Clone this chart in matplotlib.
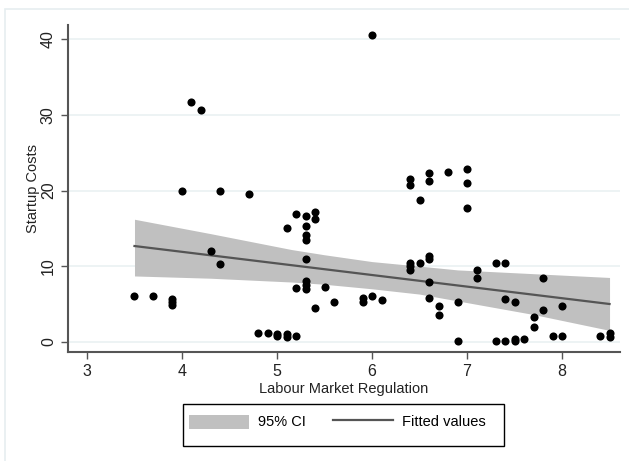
import numpy as np
import matplotlib
matplotlib.use("Agg")
import matplotlib.pyplot as plt
from matplotlib.patches import Rectangle, Patch
from matplotlib.lines import Line2D

# ---- data ----
lmr = [3.5, 3.7, 3.9, 3.9, 3.9, 4.0, 4.1, 4.2, 4.3, 4.4, 4.4, 4.7, 4.8, 4.9,
       5.0, 5.0, 5.1, 5.1, 5.1, 5.2, 5.2, 5.2, 5.3, 5.3, 5.3, 5.3, 5.3, 5.3,
       5.3, 5.3, 5.4, 5.4, 5.4, 5.5, 5.6, 5.9, 5.9, 6.0, 6.0, 6.1, 6.4, 6.4,
       6.4, 6.4, 6.4, 6.5, 6.5, 6.6, 6.6, 6.6, 6.6, 6.6, 6.6, 6.7, 6.7, 6.8,
       6.9, 6.9, 7.0, 7.0, 7.0, 7.1, 7.1, 7.3, 7.3, 7.4, 7.4, 7.4, 7.5, 7.5,
       7.5, 7.6, 7.7, 7.7, 7.8, 7.8, 7.9, 8.0, 8.0, 8.4, 8.5, 8.5]
startup = [6.0, 6.0, 5.7, 5.2, 4.8, 20.0, 31.7, 30.6, 12.0, 19.9, 10.3, 19.5, 1.1, 1.1,
           1.0, 0.7, 1.0, 0.6, 15.0, 16.9, 7.1, 0.7, 16.6, 15.3, 14.1, 13.4, 10.9, 8.0,
           7.5, 7.0, 17.1, 16.3, 4.5, 7.3, 5.3, 5.8, 5.2, 40.6, 6.0, 5.5, 21.5, 20.7,
           10.4, 10.0, 9.5, 18.8, 10.4, 22.3, 21.3, 11.4, 11.0, 7.9, 5.8, 4.7, 3.6, 22.5,
           5.2, 0.1, 22.9, 21.0, 17.7, 9.5, 8.4, 10.4, 0.1, 10.4, 5.6, 0.1, 5.2, 0.1,
           0.4, 0.3, 3.3, 1.9, 8.4, 4.2, 0.7, 4.7, 0.7, 0.7, 0.6, 1.1]

# fitted line and 95% CI band
fit_x = [3.5, 8.5]
fit_y = [12.66, 4.99]
ci_x = [3.5, 4.3, 5.15, 5.5, 6.0, 6.5, 6.9, 7.7, 8.5]
ci_hi = [16.2, 14.3, 12.2, 11.5, 10.6, 10.0, 9.5, 9.0, 8.5]
ci_lo = [8.7, 8.4, 7.9, 7.6, 7.0, 6.3, 5.4, 3.6, 1.5]

x_ticks = [3, 4, 5, 6, 7, 8]
y_ticks = [0, 10, 20, 30, 40]
legend_labels = ["95% CI", "Fitted values"]

plt.rcParams['font.family'] = ['Liberation Sans', 'DejaVu Sans']

W, H = 629, 461
fig = plt.figure(figsize=(W / 100, H / 100), dpi=100)
fig.patch.set_facecolor('white')
# outer graph-region border
fig.patches.append(Rectangle((5 / W, -0.05), 2, 1 - 9 / H + 0.05,
                             transform=fig.transFigure, fill=False,
                             edgecolor='#e6eef0', linewidth=1.2))

ax = fig.add_axes([67.7 / W, 1 - 352.3 / H, (620 - 67.7) / W, (352.3 - 25) / H])
ax.set_xlim(2.797, 8.61)
ax.set_ylim(-1.4, 41.9)

ax.fill_between(ci_x, ci_lo, ci_hi, color='#c0c0c0', linewidth=0, zorder=1)
ax.plot(fit_x, fit_y, color='#555555', linewidth=1.6, zorder=2)
ax.scatter(lmr, startup, s=34, color='black', zorder=3, linewidths=0)

ax.set_xticks(x_ticks)
ax.set_yticks(y_ticks)
ax.set_yticklabels([str(v) for v in y_ticks], rotation=90, va='center')
ax.tick_params(axis='both', direction='out', length=5, width=1, color='#555555',
               labelsize=11.5, labelcolor='#222222')
ax.grid(axis='y', color='#eaf1f2', linewidth=1.2, zorder=0)
ax.set_axisbelow(True)
for sp in ['top', 'right']:
    ax.spines[sp].set_visible(False)
for sp in ['left', 'bottom']:
    ax.spines[sp].set_color('#555555')
    ax.spines[sp].set_linewidth(1.5)

ax.set_xlabel("Labour Market Regulation", fontsize=10.5, color='#222222', labelpad=2)
ax.set_ylabel("Startup Costs", fontsize=10.5, color='#222222', labelpad=1)

handles = [Patch(facecolor='#c0c0c0', edgecolor='none'),
           Line2D([0], [0], color='#555555', linewidth=1.6)]
leg = fig.legend(handles, legend_labels, ncol=2, loc='center left',
                 bbox_to_anchor=(189 / W, 1 - 422 / H), borderaxespad=0,
                 fontsize=10.5, frameon=False, borderpad=0, handlelength=4.1,
                 handleheight=1.1, columnspacing=1.9, handletextpad=0.6)
fig.patches.append(Rectangle((183.3 / W, 1 - 446 / H), (504.3 - 183.3) / W,
                             (446 - 404.3) / H, transform=fig.transFigure,
                             fill=False, edgecolor='black', linewidth=1.0))

fig.savefig("out.png", dpi=100, facecolor='white')
